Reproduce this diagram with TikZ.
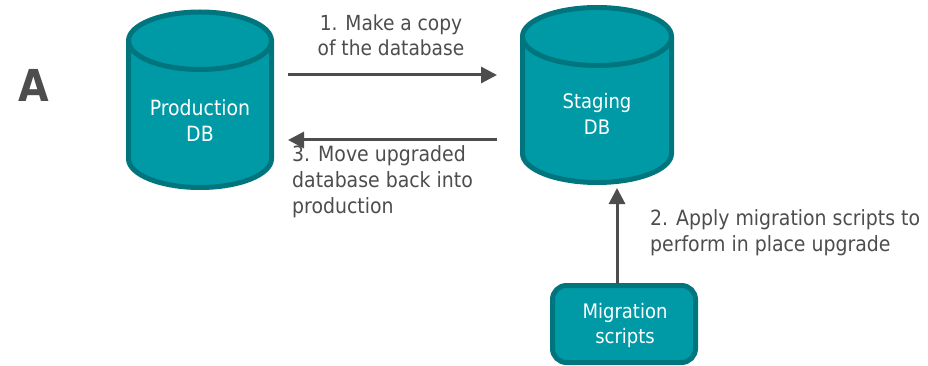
\documentclass[tikz,border=0pt]{standalone}
\usepackage{fontspec}
\setmainfont{DejaVu Sans Condensed}
\usetikzlibrary{arrows.meta}
\definecolor{tealfill}{HTML}{009AA6}
\definecolor{tealline}{HTML}{00757D}
\definecolor{ink}{HTML}{4D4D4D}
\tikzset{
  dbshape/.style={draw=none,fill=none,inner sep=0pt,outer sep=0pt},
  dbline/.style={draw=tealline,fill=tealfill,line width=5pt,line join=round},
  whitelabel/.style={text=white,font=\fontsize{21}{26}\selectfont,align=center,inner sep=0pt},
  caption/.style={text=ink,font=\fontsize{21}{26}\selectfont,align=left,anchor=north west,inner sep=0pt},
  flow/.style={draw=ink,line width=3pt,-{Triangle[length=16pt,width=16pt]}},
}
% #1 node name, #2 x radius, #3 y radius of the end ellipses
\newcommand{\dbcyl}[3]{%
  \draw[dbline] ([yshift=-#3pt]#1.north west) arc[start angle=180,end angle=0,x radius=#2pt,y radius=#3pt]
     -- ([yshift=#3pt]#1.south east) arc[start angle=0,end angle=-180,x radius=#2pt,y radius=#3pt] -- cycle;
  \draw[dbline,fill=none] ([yshift=-#3pt]#1.north west) arc[start angle=180,end angle=360,x radius=#2pt,y radius=#3pt];
}
\begin{document}
\begin{tikzpicture}[x=1pt,y=-1pt]
\useasboundingbox (0,0) rectangle (928,366);
\node[dbshape,minimum width=143pt,minimum height=175.5pt] (prod) at (200,99.75) {};
\node[dbshape,minimum width=149pt,minimum height=175pt] (stag) at (597,95) {};
\dbcyl{prod}{71.5}{28.75}
\dbcyl{stag}{74.5}{29}
\node[draw=tealline,fill=tealfill,line width=5pt,rounded corners=14pt,minimum width=143pt,minimum height=77pt,inner sep=0pt] (mig) at (624,324) {};
\node[whitelabel] (prodt) at (200,121) {Production\\DB};
\node[whitelabel,font=\fontsize{20}{26}\selectfont] (stagt) at (597,114) {Staging\\DB};
\node[whitelabel,font=\fontsize{20}{25}\selectfont] (migt) at (625,325) {Migration\\scripts};
\node[text=ink,font=\fontsize{44}{44}\bfseries\selectfont,inner sep=0pt] (lab) at (34,85) {A};
\coordinate (a1s) at (288,75);
\coordinate (a1e) at (497,75);
\coordinate (a3s) at (497,140);
\coordinate (a3e) at (288,140);
\coordinate (a2s) at (617,284);
\coordinate (a2e) at (617,188);
\draw[flow] (a1s) -- (a1e);
\draw[flow] (a3s) -- (a3e);
\draw[flow] (a2s) -- (a2e);
\node[caption,align=center,anchor=north,font=\fontsize{20.7}{25}\selectfont] (c1) at (391,15) {1. Make a copy\\of the database};
\node[caption] (c3) at (292,145) {3. Move upgraded\\database back into\\production};
\node[caption] (c2) at (650,209) {2. Apply migration scripts to\\perform in place upgrade};
\end{tikzpicture}
\end{document}
